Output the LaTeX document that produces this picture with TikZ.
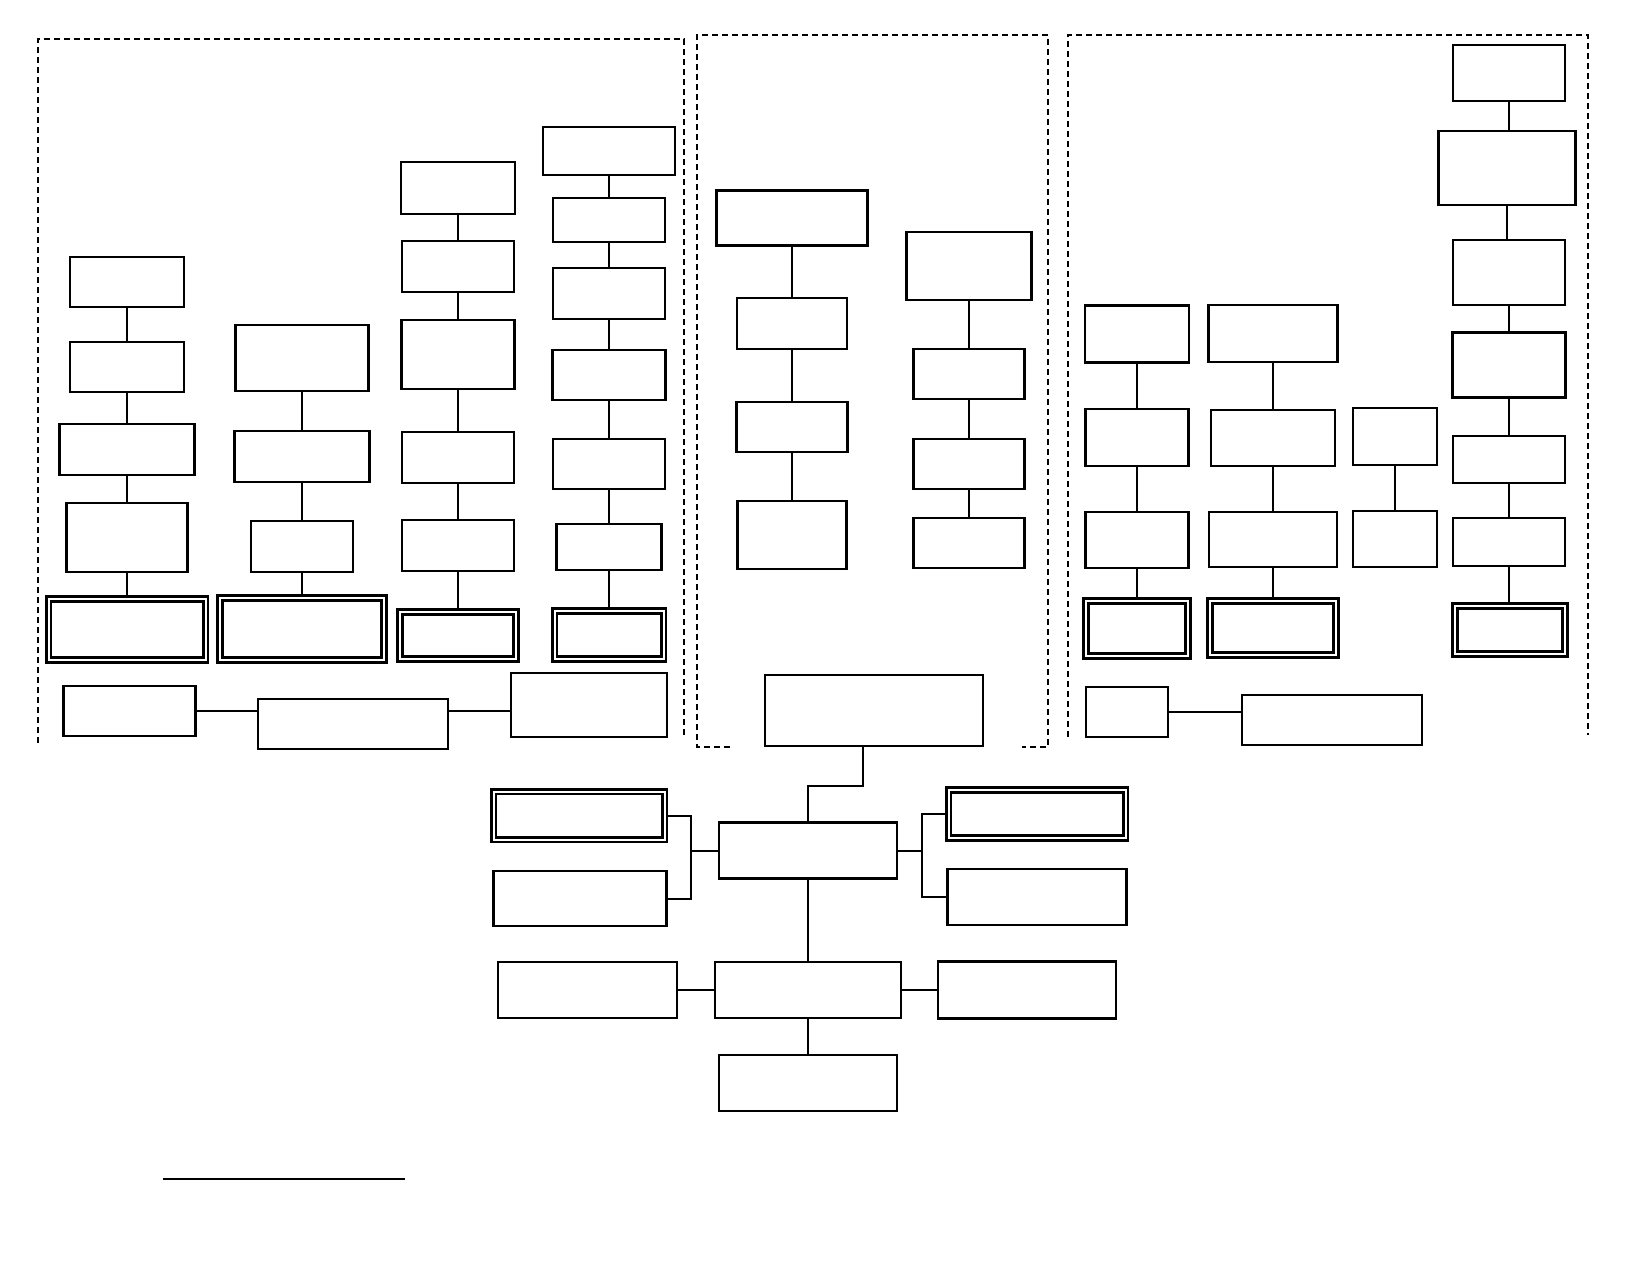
\documentclass[tikz,border=0pt]{standalone}

\tikzset{
  box/.style 2 args={draw, line width=2.4pt, inner sep=0pt, minimum width=#1pt, minimum height=#2pt},
  dbox/.style 2 args={box={#1}{#2}, double, double distance=2pt, line width=2.8pt, outer sep=3.8pt},
  link/.style={line width=2pt},
  zone/.style={line width=2pt, dash pattern=on 6pt off 4pt},
}

\begin{document}
\begin{tikzpicture}[x=1pt, y=-1pt]
  \useasboundingbox (0,0) rectangle (1650,1275);

  % dashed zones
  \draw[zone] (38,743) -- (38,39) -- (684,39) -- (684,738);
  \draw[zone] (730,747) -- (697,747) -- (697,35) -- (1048,35) -- (1048,747) -- (1022,747);
  \draw[zone] (1068,737) -- (1068,35) -- (1588,35) -- (1588,735);

  % left zone
  \node[box={114}{50}]  (a1) at (127,282) {};
  \node[box={114}{50}]  (a2) at (127,367) {};
  \node[box={135}{51}]  (a3) at (127,449.5) {};
  \node[box={121}{69}]  (a4) at (127,537.5) {};
  \node[dbox={157}{61}] (a5) at (127,629.5) {};

  \node[box={133}{66}]  (b1) at (302,358) {};
  \node[box={135}{51}]  (b2) at (302,456.5) {};
  \node[box={102}{51}]  (b3) at (302,546.5) {};
  \node[dbox={164}{62}] (b4) at (302,629) {};

  \node[box={114}{52}]  (c1) at (458,188) {};
  \node[box={112}{51}]  (c2) at (458,266.5) {};
  \node[box={113}{69}]  (c3) at (458,354.5) {};
  \node[box={112}{51}]  (c4) at (458,457.5) {};
  \node[box={112}{51}]  (c5) at (458,545.5) {};
  \node[dbox={116}{47}] (c6) at (458,635.5) {};

  \node[box={132}{48}]  (d1) at (609,151) {};
  \node[box={112}{44}]  (d2) at (609,220) {};
  \node[box={112}{51}]  (d3) at (609,293.5) {};
  \node[box={113}{50}]  (d4) at (609,375) {};
  \node[box={112}{50}]  (d5) at (609,464) {};
  \node[box={105}{46}]  (d6) at (609,547) {};
  \node[dbox={109}{48}] (d7) at (609,635) {};

  \node[box={132}{50}]  (e1) at (129.5,711) {};
  \node[box={190}{50}]  (e2) at (353,724) {};
  \node[box={156}{64}]  (e3) at (589,705) {};

  % middle zone
  \node[box={151}{55}]  (k1) at (792,218) {};
  \node[box={110}{51}]  (k2) at (792,323.5) {};
  \node[box={111}{50}]  (k3) at (792,427) {};
  \node[box={109}{68}]  (k4) at (792,535) {};

  \node[box={125}{68}]  (l1) at (969,266) {};
  \node[box={111}{50}]  (l2) at (969,374) {};
  \node[box={111}{50}]  (l3) at (969,464) {};
  \node[box={111}{50}]  (l4) at (969,543) {};

  \node[box={218}{71}]  (m0) at (874,710.5) {};

  % right zone
  \node[box={104}{57}]  (p1) at (1137,334) {};
  \node[box={103}{57}]  (p2) at (1137,437.5) {};
  \node[box={103}{56}]  (p3) at (1137,540) {};
  \node[dbox={102}{55}] (p4) at (1137,628.5) {};

  \node[box={129}{57}]  (q1) at (1273,333.5) {};
  \node[box={124}{56}]  (q2) at (1273,438) {};
  \node[box={128}{55}]  (q3) at (1273,539.5) {};
  \node[dbox={126}{54}] (q4) at (1273,628) {};

  \node[box={84}{57}]   (r1) at (1395,436.5) {};
  \node[box={84}{56}]   (r2) at (1395,539) {};

  \node[box={112}{56}]  (f1) at (1509,73) {};
  \node[box={137}{74}]  (f2) at (1507,168) {};
  \node[box={112}{65}]  (f3) at (1509,272.5) {};
  \node[box={113}{65}]  (f4) at (1509,365) {};
  \node[box={112}{47}]  (f5) at (1509,459.5) {};
  \node[box={112}{48}]  (f6) at (1509,542) {};
  \node[dbox={110}{48}] (f7) at (1510,630) {};

  \node[box={82}{50}]   (h1) at (1127,712) {};
  \node[box={180}{50}]  (h2) at (1332,720) {};

  % centre
  \node[box={178}{56}]  (m1)  at (808,850.5) {};
  \node[dbox={171}{48}] (lf1) at (579,815.5) {};
  \node[box={173}{55}]  (lf2) at (580,898.5) {};
  \node[dbox={177}{48}] (rt1) at (1037,814) {};
  \node[box={179}{56}]  (rt2) at (1037,897) {};
  \node[box={186}{56}]  (m2)  at (808,990) {};
  \node[box={179}{56}]  (m2l) at (587.5,990) {};
  \node[box={178}{57}]  (m2r) at (1027,990) {};
  \node[box={178}{56}]  (m3)  at (808,1083) {};

  % columns
  \foreach \u/\v in {a1/a2,a2/a3,a3/a4,a4/a5, b1/b2,b2/b3,b3/b4,
      c1/c2,c2/c3,c3/c4,c4/c5,c5/c6, d1/d2,d2/d3,d3/d4,d4/d5,d5/d6,d6/d7,
      k1/k2,k2/k3,k3/k4, l1/l2,l2/l3,l3/l4,
      p1/p2,p2/p3,p3/p4, q1/q2,q2/q3,q3/q4, r1/r2,
      f1/f2,f2/f3,f3/f4,f4/f5,f5/f6,f6/f7, m1/m2,m2/m3}
    \draw[link] (\u.south) -- (\u.south |- \v.north);

  % rows
  \draw[link] (e1.east) -- (e1.east -| e2.west);
  \draw[link] (e2.east |- e1.east) -- (e1.east -| e3.west);
  \draw[link] (h1.east) -- (h1.east -| h2.west);
  \draw[link] (m2l) -- (m2);
  \draw[link] (m2) -- (m2r);

  % brackets
  \draw[link] ([xshift=-11pt]m0.south) -- ++(0,39) -| (m1.north);
  \coordinate (lbr) at ([xshift=-27pt]m1.west);
  \coordinate (rbr) at ([xshift=24pt]m1.east);
  \draw[link] (lf1.east) -| (lbr) |- (lf2.east);
  \draw[link] (m1.west) -- (lbr);
  \draw[link] (rt1.west) -| (rbr) |- (rt2.west);
  \draw[link] (m1.east) -- (rbr);

  % signature line
  \draw[line width=1.8pt] (163,1179) -- (405,1179);
\end{tikzpicture}
\end{document}
